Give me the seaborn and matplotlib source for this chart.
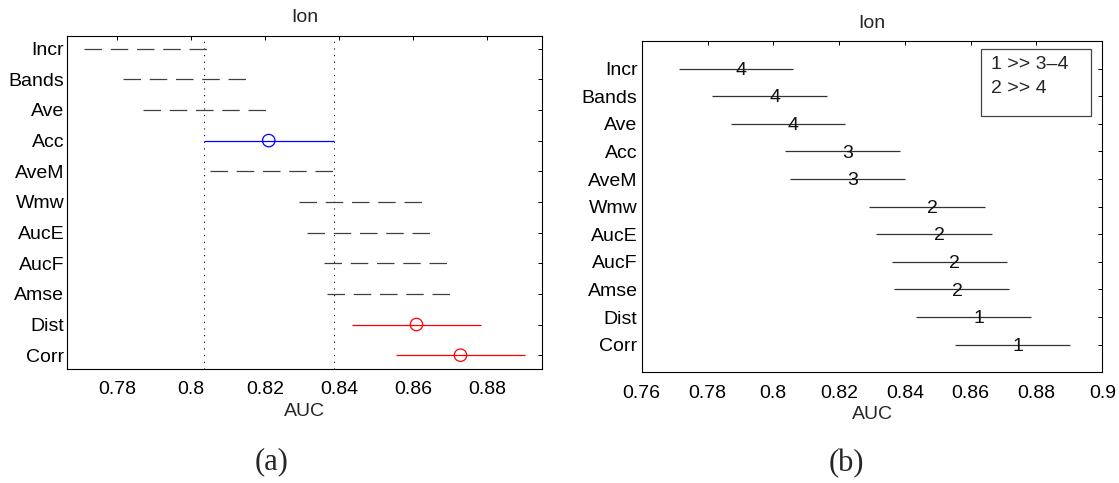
import numpy as np
import pandas as pd
import matplotlib
matplotlib.use("Agg")
import matplotlib.pyplot as plt
import seaborn as sns
from matplotlib.patches import Rectangle

# ---------------- data ----------------
methods = ["Incr", "Bands", "Ave", "Acc", "AveM", "Wmw", "AucE", "AucF", "Amse", "Dist", "Corr"]
auc_mean = [0.7886, 0.7989, 0.8044, 0.8210, 0.8226, 0.8466, 0.8487, 0.8535, 0.8542, 0.8609, 0.8728]
auc_low = [0.7712, 0.7815, 0.7870, 0.8035, 0.8052, 0.8291, 0.8313, 0.8360, 0.8368, 0.8435, 0.8553]
auc_high = [0.8060, 0.8163, 0.8218, 0.8385, 0.8401, 0.8642, 0.8664, 0.8710, 0.8717, 0.8783, 0.8903]
group_status = ["ns", "ns", "ns", "ref", "ns", "ns", "ns", "ns", "ns", "sig", "sig"]
rank_groups = ["4", "4", "4", "3", "3", "2", "2", "2", "2", "1", "1"]
comparison_notes = ["1 >> 3\u20134", "2 >> 4"]
left_xticks = [0.78, 0.80, 0.82, 0.84, 0.86, 0.88]
left_xticklabels = ["0.78", "0.8", "0.82", "0.84", "0.86", "0.88"]
right_xticks = [0.76, 0.78, 0.80, 0.82, 0.84, 0.86, 0.88, 0.90]
right_xticklabels = ["0.76", "0.78", "0.8", "0.82", "0.84", "0.86", "0.88", "0.9"]
panel_title = "Ion"
x_label = "AUC"
captions = ["(a)", "(b)"]

df = pd.DataFrame({
    "method": methods,
    "mean": auc_mean,
    "low": auc_low,
    "high": auc_high,
    "status": group_status,
    "rank": rank_groups,
})
df["pos"] = np.arange(1, len(df) + 1)

# ---------------- style ----------------
sns.set_theme(style="white")
plt.rcParams["font.family"] = ["Liberation Sans", "DejaVu Sans"]
plt.rcParams["axes.edgecolor"] = "black"
plt.rcParams["axes.linewidth"] = 0.8

FS = 14
W, H = 1119, 483
fig = plt.figure(figsize=(W / 100, H / 100), dpi=100)


def px_axes(x0, y0, x1, y1):
    return fig.add_axes([x0 / W, 1 - y1 / H, (x1 - x0) / W, (y1 - y0) / H])


axL = px_axes(67, 35.7, 542.3, 369)
axR = px_axes(641.7, 41, 1102.3, 372.3)

for ax in (axL, axR):
    ax.tick_params(direction="in", top=True, right=True, length=3, width=0.7,
                   labelsize=FS, colors="black", pad=3)
    for s in ax.spines.values():
        s.set_color("black")
        s.set_linewidth(0.8)
    ax.set_facecolor("white")

# ---------------- left panel (multiple comparison) ----------------
ref = df[df["status"] == "ref"].iloc[0]
for lim in (ref["low"], ref["high"]):
    axL.axvline(lim, color="black", lw=0.8, ls=(0, (1, 5)), zorder=1)

ns = df[df["status"] == "ns"]
axL.hlines(ns["pos"], ns["low"], ns["high"], color="#404040", lw=0.9,
           linestyles=[(0, (14, 7))], zorder=2)
colmap = {"ref": "#0000ff", "sig": "#ff0000"}
hl = df[df["status"] != "ns"]
for _, r in hl.iterrows():
    axL.hlines(r["pos"], r["low"], r["high"], color=colmap[r["status"]], lw=0.9, zorder=2)
sns.scatterplot(data=hl, x="mean", y="pos", hue="status", palette=colmap,
                s=80, marker="o", legend=False, ax=axL, zorder=3)
for coll in axL.collections[-1:]:
    fc = coll.get_facecolors()
    coll.set_edgecolors(fc)
    coll.set_facecolors("none")
    coll.set_linewidth(0.9)

axL.set_xlim(0.7665, 0.8949)
axL.set_ylim(len(df) + 0.45, 0.58)
axL.set_yticks(df["pos"])
axL.set_yticklabels(df["method"])
axL.set_xticks(left_xticks)
axL.set_xticklabels(left_xticklabels)
axL.tick_params(axis="y", pad=2)
axL.tick_params(axis="x", pad=9)
axL.set_xlabel(x_label, fontsize=FS, labelpad=3)
axL.set_ylabel("")
axL.set_title(panel_title, fontsize=FS, pad=10)

# ---------------- right panel (ranks / CD intervals) ----------------
axR.hlines(df["pos"], df["low"], df["high"], color="#333333", lw=0.9, zorder=2)
for _, r in df.iterrows():
    axR.text(r["mean"], r["pos"] + 0.06, r["rank"], ha="left", va="center",
             fontsize=FS, color="#111111", zorder=3)
axR.set_xlim(0.76, 0.90)
axR.set_ylim(len(df) + 1, 0)
axR.set_yticks(df["pos"])
axR.set_yticklabels(df["method"])
axR.set_xticks(right_xticks)
axR.set_xticklabels(right_xticklabels)
axR.tick_params(axis="y", pad=3)
axR.tick_params(axis="x", pad=9)
axR.set_xlabel(x_label, fontsize=FS, labelpad=3)
axR.set_title(panel_title, fontsize=FS, pad=9)

axR.add_patch(Rectangle((0.736, 0.774), 0.239, 0.201, transform=axR.transAxes,
                        fill=True, facecolor="white", edgecolor="#444444", lw=0.9, zorder=4))
for i, note in enumerate(comparison_notes):
    axR.text(0.758, 0.928 - i * 0.071, note, transform=axR.transAxes, ha="left",
             va="center", fontsize=FS, zorder=5)

# ---------------- captions ----------------
fig.text(271.7 / W, 1 - 461.7 / H, captions[0], ha="center", va="center",
         fontsize=22, family=["Liberation Serif", "DejaVu Serif"])
fig.text(846.7 / W, 1 - 463.3 / H, captions[1], ha="center", va="center",
         fontsize=22, family=["Liberation Serif", "DejaVu Serif"])

fig.savefig("out.png", dpi=100, facecolor="white")
